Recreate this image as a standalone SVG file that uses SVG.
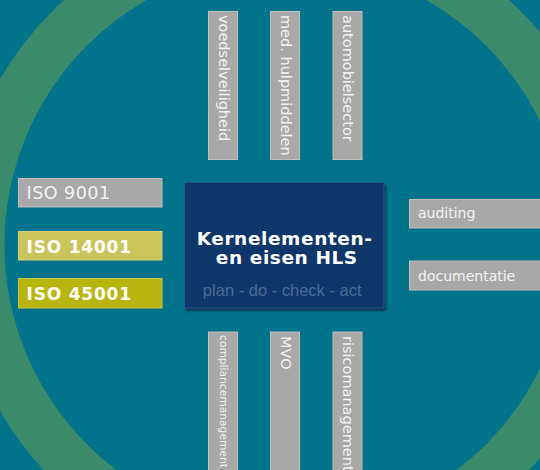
<svg xmlns="http://www.w3.org/2000/svg" width="540" height="470" viewBox="0 0 540 470">
<defs>
<style>
.bg{fill:#01738b}
.ring{fill:none;stroke:#3b8a6c;stroke-width:49}
.gray{fill:#a8a8a8;stroke:#c0c0c0;stroke-width:1}
.t{font-family:"DejaVu Sans",Verdana,sans-serif;fill:#f2f2f2}
.iso{font-size:17.5px;letter-spacing:0.5px}
.isob{font-size:17px;font-weight:bold;letter-spacing:0.8px;fill:#ffffff}
.side{font-size:14px}
.vt{font-size:14.5px}
.vs{font-size:10.7px}
.title{font-size:18.5px;font-weight:bold;letter-spacing:0.6px;fill:#ffffff}
.sub{font-family:"Liberation Sans",Arial,sans-serif;font-size:16.5px;fill:#4a6b94}
</style>
<filter id="sh" x="-10%" y="-10%" width="120%" height="120%"><feGaussianBlur stdDeviation="1.2"/></filter>
</defs>
<rect class="bg" width="540" height="470"/>
<circle class="ring" cx="286.5" cy="245" r="306.5"/>

<g id="voedselveiligheid">
<rect class="gray" x="208.5" y="11.5" width="29" height="148"/>
<text class="t vt" transform="translate(218.5,15) rotate(90)">voedselveiligheid</text>
</g>
<g id="med-hulpmiddelen">
<rect class="gray" x="270.5" y="11.5" width="29" height="148"/>
<text class="t vt" transform="translate(280.5,15) rotate(90)">med. hulpmiddelen</text>
</g>
<g id="automobielsector">
<rect class="gray" x="333" y="11.5" width="29" height="148"/>
<text class="t vt" transform="translate(343,15) rotate(90)">automobielsector</text>
</g>

<g id="compliancemanagement">
<rect class="gray" x="208.5" y="332" width="29" height="150"/>
<text class="t vs" transform="translate(219.5,335) rotate(90)">compliancemanagement</text>
</g>
<g id="mvo">
<rect class="gray" x="270.5" y="332" width="29" height="150"/>
<text class="t vt" transform="translate(280.5,336) rotate(90)">MVO</text>
</g>
<g id="risicomanagement">
<rect class="gray" x="333" y="332" width="29" height="150"/>
<text class="t vt" transform="translate(343,336) rotate(90)">risicomanagement</text>
</g>

<g id="iso9001">
<rect class="gray" x="18.5" y="178.5" width="143.5" height="28.5"/>
<text class="t iso" x="26.5" y="199.3">ISO 9001</text>
</g>
<g id="iso14001">
<rect x="18.5" y="231.5" width="143.5" height="28.5" fill="#c9c55a" stroke="#d4d07a" stroke-width="1"/>
<text class="t isob" x="26.5" y="252.7">ISO 14001</text>
</g>
<g id="iso45001">
<rect x="18.5" y="278.5" width="143.5" height="29.5" fill="#bab50e" stroke="#c8c44a" stroke-width="1"/>
<text class="t isob" x="26.5" y="300">ISO 45001</text>
</g>

<g id="auditing">
<rect class="gray" x="409.5" y="199.5" width="140" height="28.5"/>
<text class="t side" x="418" y="218.3">auditing</text>
</g>
<g id="documentatie">
<rect class="gray" x="409.5" y="261" width="140" height="29"/>
<text class="t side" x="418" y="280.7">documentatie</text>
</g>

<g id="kernelementen">
<rect x="186" y="185" width="200" height="126" fill="#0d2b40" opacity="0.8" filter="url(#sh)"/>
<rect x="184.5" y="182.5" width="199.5" height="125.5" fill="#10376a" stroke="#2e5682" stroke-width="1"/>
<text class="t title" x="284.6" y="245" text-anchor="middle">Kernelementen-</text>
<text class="t title" x="286.8" y="264.3" text-anchor="middle">en eisen HLS</text>
<text class="t sub" x="282.2" y="296" text-anchor="middle">plan - do - check - act</text>
</g>
</svg>
